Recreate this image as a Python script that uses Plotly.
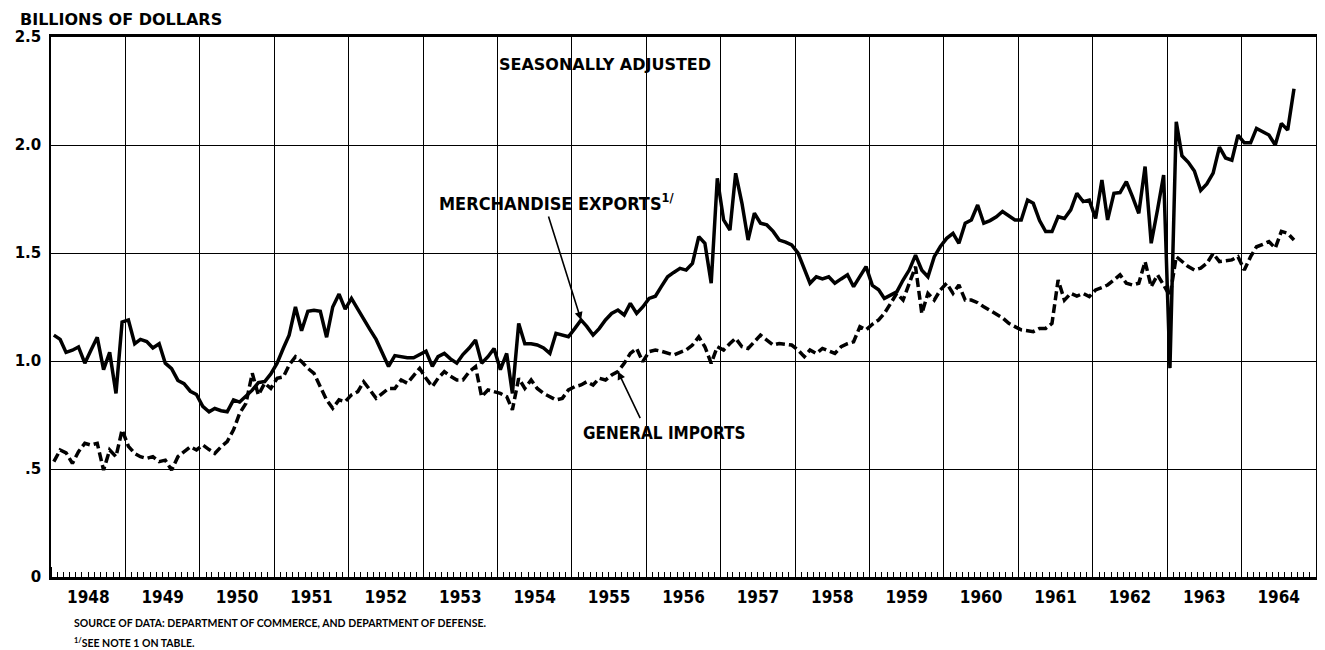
import plotly.graph_objects as go
import pandas as pd

# Monthly values, billions of dollars, Jan 1948 - Sep 1964 (seasonally adjusted)
exports = [
    # 1948
    1.12, 1.10, 1.04, 1.05, 1.065, 0.99, 1.05, 1.11, 0.96, 1.04, 0.85, 1.18,
    # 1949
    1.19, 1.08, 1.10, 1.09, 1.06, 1.08, 0.99, 0.965, 0.91, 0.895, 0.86, 0.845,
    # 1950
    0.79, 0.765, 0.78, 0.77, 0.765, 0.82, 0.81, 0.84, 0.865, 0.90, 0.905, 0.94,
    # 1951
    0.99, 1.06, 1.12, 1.25, 1.14, 1.23, 1.235, 1.23, 1.11, 1.25, 1.31, 1.24,
    # 1952
    1.29, 1.24, 1.19, 1.145, 1.10, 1.04, 0.975, 1.025, 1.02, 1.015, 1.015, 1.03,
    # 1953
    1.045, 0.975, 1.02, 1.035, 1.01, 0.99, 1.03, 1.06, 1.097, 0.99, 1.02, 1.058,
    # 1954
    0.96, 1.035, 0.85, 1.174, 1.08, 1.08, 1.074, 1.06, 1.035, 1.128, 1.12, 1.112,
    # 1955
    1.15, 1.19, 1.16, 1.12, 1.15, 1.19, 1.22, 1.236, 1.213, 1.267, 1.22, 1.25,
    # 1956
    1.29, 1.30, 1.344, 1.39, 1.41, 1.429, 1.421, 1.452, 1.576, 1.545, 1.36, 1.846,
    # 1957
    1.653, 1.606, 1.869, 1.73, 1.56, 1.684, 1.638, 1.63, 1.60, 1.56, 1.55, 1.537,
    # 1958
    1.50, 1.43, 1.36, 1.39, 1.38, 1.39, 1.36, 1.38, 1.399, 1.344, 1.39, 1.437,
    # 1959
    1.35, 1.33, 1.29, 1.305, 1.32, 1.375, 1.421, 1.49, 1.42, 1.39, 1.483, 1.53,
    # 1960
    1.568, 1.591, 1.545, 1.638, 1.653, 1.722, 1.638, 1.65, 1.668, 1.692, 1.67, 1.653,
    # 1961
    1.653, 1.745, 1.73, 1.65, 1.599, 1.599, 1.668, 1.66, 1.70, 1.776, 1.738, 1.745,
    # 1962
    1.66, 1.838, 1.653, 1.776, 1.78, 1.83, 1.761, 1.684, 1.9, 1.545, 1.70, 1.861,
    # 1963
    0.967, 2.107, 1.95, 1.92, 1.88, 1.79, 1.82, 1.87, 1.99, 1.94, 1.93, 2.046,
    # 1964
    2.01, 2.01, 2.077, 2.06, 2.046, 2.0, 2.1, 2.069, 2.26,
]

imports = [
    # 1948
    0.534, 0.588, 0.575, 0.526, 0.58, 0.619, 0.611, 0.619, 0.495, 0.588, 0.557, 0.681,
    # 1949
    0.605, 0.572, 0.557, 0.549, 0.557, 0.534, 0.541, 0.495, 0.557, 0.58, 0.603, 0.588,
    # 1950
    0.611, 0.59, 0.572, 0.603, 0.627, 0.681, 0.758, 0.804, 0.943, 0.843, 0.897, 0.873,
    # 1951
    0.92, 0.927, 0.981, 1.02, 0.997, 0.966, 0.943, 0.881, 0.82, 0.781, 0.82, 0.812,
    # 1952
    0.843, 0.858, 0.904, 0.866, 0.827, 0.85, 0.873, 0.873, 0.912, 0.897, 0.93, 0.966,
    # 1953
    0.92, 0.881, 0.92, 0.951, 0.93, 0.912, 0.912, 0.95, 0.974, 0.835, 0.866, 0.858,
    # 1954
    0.85, 0.835, 0.774, 0.92, 0.873, 0.912, 0.873, 0.85, 0.835, 0.82, 0.827, 0.866,
    # 1955
    0.881, 0.889, 0.904, 0.889, 0.92, 0.912, 0.935, 0.951, 0.989, 1.035, 1.058, 0.997,
    # 1956
    1.043, 1.051, 1.045, 1.035, 1.028, 1.04, 1.051, 1.074, 1.112, 1.066, 0.989, 1.066,
    # 1957
    1.051, 1.081, 1.105, 1.066, 1.058, 1.089, 1.12, 1.097, 1.074, 1.081, 1.078, 1.074,
    # 1958
    1.051, 1.02, 1.051, 1.035, 1.058, 1.045, 1.035, 1.066, 1.08, 1.089, 1.159, 1.144,
    # 1959
    1.17, 1.19, 1.22, 1.267, 1.313, 1.282, 1.36, 1.437, 1.22, 1.313, 1.282, 1.329,
    # 1960
    1.36, 1.313, 1.352, 1.282, 1.282, 1.27, 1.251, 1.235, 1.22, 1.20, 1.174, 1.16,
    # 1961
    1.144, 1.14, 1.136, 1.151, 1.151, 1.174, 1.375, 1.282, 1.313, 1.30, 1.313, 1.298,
    # 1962
    1.329, 1.34, 1.352, 1.375, 1.399, 1.36, 1.352, 1.36, 1.46, 1.344, 1.399, 1.352,
    # 1963
    1.30, 1.483, 1.46, 1.437, 1.421, 1.43, 1.452, 1.498, 1.46, 1.462, 1.468, 1.483,
    # 1964
    1.421, 1.483, 1.529, 1.54, 1.553, 1.522, 1.6, 1.591, 1.56,
]

y_tickvals = [0, 0.5, 1.0, 1.5, 2.0, 2.5]
y_ticktext = ["0", ".5", "1.0", "1.5", "2.0", "2.5"]

start_month = "1948-01-01"
x_range = ["1948-01-01", "1965-01-01"]

dates = pd.date_range(start_month, periods=len(exports), freq="MS") + pd.Timedelta(days=14)

# page body keeps a default 8px margin: size the figure so the plot lands in place
OFF = 8
W, H = 1325 - OFF, 650 - OFF
ML, MR, MT = 42 - OFF, 7, 37 - OFF
PW = W - ML - MR
PH = 540
MB = H - MT - PH


def px(x):
    """reference-picture x pixel -> paper coordinate"""
    return (x - OFF - ML) / PW


def py(y):
    """reference-picture y pixel -> paper coordinate"""
    return (H - MB - (y - OFF)) / PH


WIDE = "'DejaVu Sans', Lato, sans-serif"
SMALL = "Lato, 'Open Sans', 'DejaVu Sans', sans-serif"
COND = "'Liberation Sans Narrow', 'DejaVu Sans Condensed', 'Arial Narrow', 'Liberation Sans', sans-serif"

fig = go.Figure()
fig.add_trace(go.Scatter(
    x=dates, y=exports, mode="lines", name="Merchandise exports",
    line=dict(color="black", width=3.5), hoverinfo="x+y"))
fig.add_trace(go.Scatter(
    x=dates, y=imports, mode="lines", name="General imports",
    line=dict(color="black", width=3.5, dash="9px,4px"), hoverinfo="x+y"))

fig.update_layout(
    width=W, height=H,
    margin=dict(l=ML, r=MR, t=MT, b=MB, pad=0),
    paper_bgcolor="white", plot_bgcolor="white",
    showlegend=False,
    xaxis=dict(
        type="date", range=x_range,
        dtick="M12", tick0="1948-01-01", tickformat="%Y",
        ticklabelmode="period",
        showgrid=True, gridcolor="black", gridwidth=1.2,
        ticks="inside", ticklen=10, tickcolor="black", tickwidth=1,
        showline=True, linecolor="black", linewidth=2.5, mirror=True,
        zeroline=False,
        tickfont=dict(family=COND, size=17, color="black", weight="bold"),
        ticklabelstandoff=3,
        minor=dict(dtick="M1", ticks="inside", ticklen=5,
                   tickcolor="black", tickwidth=1, showgrid=False),
    ),
    yaxis=dict(
        range=[0, 2.5], tickvals=y_tickvals, ticktext=y_ticktext,
        showgrid=True, gridcolor="black", gridwidth=1.2,
        showline=True, linecolor="black", linewidth=1.5, mirror=True,
        zeroline=False, ticks="",
        tickfont=dict(family=WIDE, size=15, color="black", weight="bold"),
        ticklabelstandoff=5,
    ),
)

ann = []
ann.append(dict(text="BILLIONS OF DOLLARS", xref="paper", yref="paper",
                x=px(10), y=py(9), xanchor="left", yanchor="top", showarrow=False,
                borderpad=0,
                font=dict(family=WIDE, size=16, color="black", weight="bold")))
ann.append(dict(text="SEASONALLY ADJUSTED", xref="paper", yref="paper",
                x=px(492), y=py(64), xanchor="left", yanchor="middle", showarrow=False,
                font=dict(family=WIDE, size=16, color="black", weight="bold")))
ann.append(dict(text="MERCHANDISE EXPORTS<sup>1/</sup>", xref="paper", yref="paper",
                x=px(431), y=py(202), xanchor="left", yanchor="middle", showarrow=False,
                font=dict(family=COND, size=18, color="black", weight="bold")))
ann.append(dict(text="GENERAL IMPORTS", xref="paper", yref="paper",
                x=px(577), y=py(433), xanchor="left", yanchor="middle", showarrow=False,
                font=dict(family=COND, size=17, color="black", weight="bold")))
ann.append(dict(text="SOURCE OF DATA: DEPARTMENT OF COMMERCE, AND DEPARTMENT OF DEFENSE.",
                xref="paper", yref="paper", x=px(63), y=py(623),
                xanchor="left", yanchor="middle", showarrow=False,
                font=dict(family=SMALL, size=10.5, color="black", weight="bold")))
ann.append(dict(text="<sup>1/</sup>SEE NOTE 1 ON TABLE.",
                xref="paper", yref="paper", x=px(63), y=py(642),
                xanchor="left", yanchor="middle", showarrow=False,
                font=dict(family=SMALL, size=10.5, color="black", weight="bold")))
# pointer arrows from labels to their lines
ann.append(dict(text="", x=dates[85], y=exports[85], xref="x", yref="y",
                ax=-33, ay=-105, axref="pixel", ayref="pixel", showarrow=True,
                arrowhead=2, arrowsize=1, arrowwidth=1.6, arrowcolor="black", standoff=0))
ann.append(dict(text="", x=dates[91], y=imports[91], xref="x", yref="y",
                ax=23, ay=48, axref="pixel", ayref="pixel", showarrow=True,
                arrowhead=2, arrowsize=1, arrowwidth=1.6, arrowcolor="black", standoff=0))
fig.update_layout(annotations=ann)

fig.write_html("out.html")
